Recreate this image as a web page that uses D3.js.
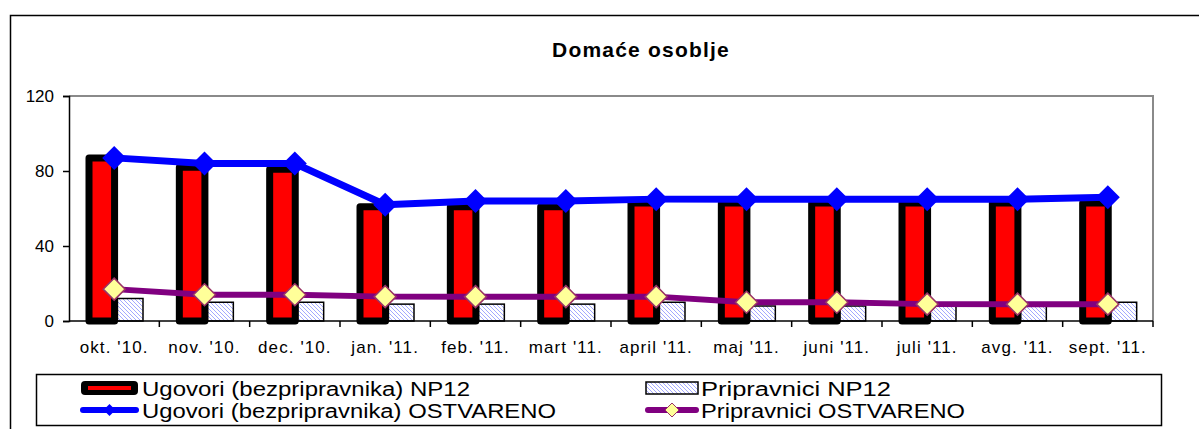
<!DOCTYPE html>
<html>
<head>
<meta charset="utf-8">
<script src="https://cdn.jsdelivr.net/npm/d3@7"></script>
<style>
  body { margin: 0; background: #fff; }
  text { font-family: "Liberation Sans", Arial, sans-serif; }
</style>
</head>
<body>
<svg id="main"></svg>
<script>
const width = 1199;
const height = 429;

// data
const months = ["okt. '10.", "nov. '10.", "dec. '10.", "jan. '11.", "feb. '11.", "mart '11.",
    "april '11.", "maj '11.", "juni '11.", "juli '11.", "avg. '11.", "sept. '11."];
const ugovoriNP12 = [87, 82, 81, 61, 61, 61, 63, 63, 63, 63, 63, 63];
const pripravniciNP12 = [12, 10, 10, 9, 9, 9, 10, 8, 8, 8, 8, 10];
const ugovoriOstvareno = [87, 84, 84, 62, 64, 64, 65, 65, 65, 65, 65, 66];
const pripravniciOstvareno = [17, 14, 14, 13, 13, 13, 13, 10, 10, 9, 9, 9];
const yTicks = [0, 40, 80, 120];
const seriesNames = ['Ugovori (bezpripravnika) NP12', 'Pripravnici NP12',
    'Ugovori (bezpripravnika) OSTVARENO', 'Pripravnici OSTVARENO'];

const plot = { left: 69, top: 96, right: 1153, bottom: 321 };

const svg = d3.select('#main').attr('width', width).attr('height', height);

// pattern for the hatched bars
const defs = svg.append('defs');
const pat = defs.append('pattern')
    .attr('id', 'hatch')
    .attr('patternUnits', 'userSpaceOnUse')
    .attr('width', 4)
    .attr('height', 4);
pat.append('rect').attr('width', 4).attr('height', 4).attr('fill', '#fff');
pat.append('path')
    .attr('d', 'M-1,-1 L5,5 M-1,3 L1,5 M3,-1 L5,1')
    .attr('stroke', '#a3a8ff')
    .attr('stroke-width', 1);

// outer chart border (cut by the picture edge)
svg.append('rect')
    .attr('x', 10.5).attr('y', 15.5)
    .attr('width', 1300).attr('height', 500)
    .attr('fill', 'none').attr('stroke', '#000').attr('stroke-width', 1.5);

svg.append('text')
    .attr('x', 641).attr('y', 57)
    .attr('text-anchor', 'middle')
    .attr('font-size', 21).attr('font-weight', 'bold')
    .attr('letter-spacing', 1.2)
    .text('Domaće osoblje');

// scales
const xScale = d3.scaleBand().domain(months).range([plot.left, plot.right]).padding(0);
const inner = d3.scaleBand().domain(['a', 'b']).range([20, 74]).paddingInner(0.1);
const yScale = d3.scaleLinear().domain([0, 120]).range([plot.bottom, plot.top]);

// plot frame top / right in grey
svg.append('path')
    .attr('d', `M${plot.left},${plot.top} H${plot.right} V${plot.bottom}`)
    .attr('fill', 'none').attr('stroke', '#8a8a8a').attr('stroke-width', 2);

// y axis
const yAxis = d3.axisLeft(yScale).tickValues(yTicks).tickSize(6).tickPadding(9).tickFormat(d3.format('d'));
const yG = svg.append('g').attr('transform', `translate(${plot.left},0)`).call(yAxis);
yG.attr('font-size', 17).attr('font-family', '"Liberation Sans", Arial, sans-serif');
yG.select('.domain').attr('stroke', '#000').attr('stroke-width', 1.5);
yG.selectAll('.tick line').attr('stroke', '#000').attr('stroke-width', 1.5);
yG.selectAll('.tick text').attr('fill', '#000');

// bars
const barG = svg.append('g');
barG.selectAll('rect.np')
    .data(ugovoriNP12)
    .join('rect')
    .attr('class', 'np')
    .attr('x', (d, i) => xScale(months[i]) + inner('a'))
    .attr('y', d => yScale(d))
    .attr('width', inner.bandwidth())
    .attr('height', d => yScale(0) - yScale(d))
    .attr('fill', '#ff0000')
    .attr('stroke', '#000')
    .attr('stroke-width', 7)
    .attr('stroke-linejoin', 'round');

barG.selectAll('rect.pr')
    .data(pripravniciNP12)
    .join('rect')
    .attr('class', 'pr')
    .attr('x', (d, i) => xScale(months[i]) + inner('b'))
    .attr('y', d => yScale(d))
    .attr('width', inner.bandwidth())
    .attr('height', d => yScale(0) - yScale(d))
    .attr('fill', 'url(#hatch)')
    .attr('stroke', '#000')
    .attr('stroke-width', 1.5);

// x axis: labels at centres, ticks at category boundaries
const xAxis = d3.axisBottom(xScale).tickSize(0).tickPadding(20);
const xG = svg.append('g').attr('transform', `translate(0,${plot.bottom})`).call(xAxis);
xG.attr('font-size', 17).attr('font-family', '"Liberation Sans", Arial, sans-serif');
xG.select('.domain').remove();
xG.selectAll('.tick text').attr('fill', '#000').attr('letter-spacing', 1.1);
svg.append('line')
    .attr('x1', plot.left).attr('x2', plot.right)
    .attr('y1', plot.bottom).attr('y2', plot.bottom)
    .attr('stroke', '#000').attr('stroke-width', 1.5);
svg.append('g').selectAll('line')
    .data(months.slice(1).concat(['end']))
    .join('line')
    .attr('x1', d => d === 'end' ? plot.right : xScale(d))
    .attr('x2', d => d === 'end' ? plot.right : xScale(d))
    .attr('y1', plot.bottom).attr('y2', plot.bottom + 6)
    .attr('stroke', '#000').attr('stroke-width', 1.5);

const diamond = r => `M0,${-r}L${r},0L0,${r}L${-r},0Z`;
const cx = i => xScale(months[i]) + xScale.bandwidth() / 2;
const line = d3.line().x((d, i) => cx(i)).y(d => yScale(d));

// blue line
svg.append('path')
    .datum(ugovoriOstvareno)
    .attr('d', line)
    .attr('fill', 'none').attr('stroke', '#0000ff').attr('stroke-width', 7)
    .attr('stroke-linejoin', 'round');
svg.append('g').selectAll('path')
    .data(ugovoriOstvareno)
    .join('path')
    .attr('d', diamond(12))
    .attr('transform', (d, i) => `translate(${cx(i)},${yScale(d)})`)
    .attr('fill', '#0000ff');

// purple line
svg.append('path')
    .datum(pripravniciOstvareno)
    .attr('d', line)
    .attr('fill', 'none').attr('stroke', '#800080').attr('stroke-width', 6)
    .attr('stroke-linejoin', 'round');
svg.append('g').selectAll('path')
    .data(pripravniciOstvareno)
    .join('path')
    .attr('d', diamond(11))
    .attr('transform', (d, i) => `translate(${cx(i)},${yScale(d)})`)
    .attr('fill', '#ffff99').attr('stroke', '#993366').attr('stroke-width', 1.5);

// legend
const leg = svg.append('g');
leg.append('rect')
    .attr('x', 36.5).attr('y', 374.5).attr('width', 1125).attr('height', 51)
    .attr('fill', '#fff').attr('stroke', '#000').attr('stroke-width', 1.5);

// swatch 1: red bar
leg.append('rect').attr('x', 81).attr('y', 381).attr('width', 57).attr('height', 14).attr('rx', 4)
    .attr('fill', '#000');
leg.append('line').attr('x1', 88).attr('x2', 131).attr('y1', 388).attr('y2', 388)
    .attr('stroke', '#ff0000').attr('stroke-width', 4);
// swatch 2: hatched bar
leg.append('rect').attr('x', 646).attr('y', 382).attr('width', 52).attr('height', 12)
    .attr('fill', 'url(#hatch)').attr('stroke', '#000').attr('stroke-width', 1.5);
// swatch 3: blue line
leg.append('line').attr('x1', 83).attr('x2', 136).attr('y1', 410).attr('y2', 410)
    .attr('stroke', '#0000ff').attr('stroke-width', 6).attr('stroke-linecap', 'round');
leg.append('path').attr('d', diamond(6)).attr('transform', 'translate(109.5,410)').attr('fill', '#0000ff');
// swatch 4: purple line
leg.append('line').attr('x1', 648).attr('x2', 696).attr('y1', 410).attr('y2', 410)
    .attr('stroke', '#800080').attr('stroke-width', 6).attr('stroke-linecap', 'round');
leg.append('path').attr('d', diamond(7)).attr('transform', 'translate(672,410)')
    .attr('fill', '#ffff99').attr('stroke', '#993366').attr('stroke-width', 1);

const legItems = [
    { name: seriesNames[0], x: 142, y: 389, w: 328 },
    { name: seriesNames[1], x: 701, y: 389, w: 190 },
    { name: seriesNames[2], x: 142, y: 411, w: 414 },
    { name: seriesNames[3], x: 701, y: 411, w: 264 }
];
leg.selectAll('text.lg')
    .data(legItems)
    .join('text')
    .attr('class', 'lg')
    .attr('x', d => d.x).attr('y', d => d.y)
    .attr('dy', '0.36em')
    .attr('font-size', 20)
    .attr('textLength', d => d.w)
    .attr('lengthAdjust', 'spacingAndGlyphs')
    .text(d => d.name);
</script>
</body>
</html>
